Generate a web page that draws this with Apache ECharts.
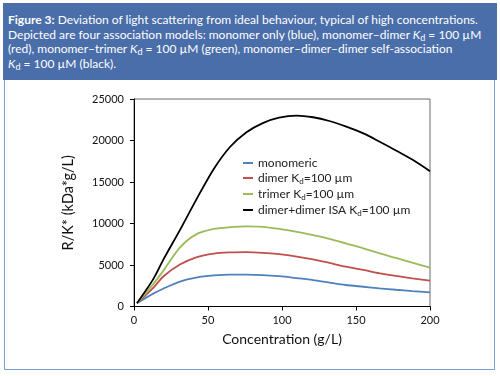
<!DOCTYPE html>
<html>
<head>
<meta charset="utf-8">
<script src="https://cdn.jsdelivr.net/npm/echarts@6/dist/echarts.min.js"></script>
<style>
  body { margin: 0; width: 500px; height: 376px; background: #fff; position: relative; overflow: hidden; }
  #hdr {
    position: absolute; left: 3px; top: 3px; width: 494px; height: 77px;
    box-sizing: border-box; padding: 10px 5px 0 5px;
    background: #4a6ea9; color: #fff;
    font-family: Lato, sans-serif; font-size: 12px; line-height: 14.5px; white-space: nowrap;
  }
  #hdr b { font-weight: bold; }
  #hdr sub { font-size: 9px; vertical-align: -2px; line-height: 0; }
  #panel {
    position: absolute; left: 4px; top: 80px; width: 491px; height: 290px;
    box-sizing: border-box; border: 1.5px solid #7d9dd3; border-top: none;
  }
  #main { position: absolute; left: 0; top: 0; width: 500px; height: 376px; }
</style>
</head>
<body>
<div id="hdr">
  <b>Figure 3:</b> Deviation of light scattering from ideal behaviour, typical of high concentrations.<br>
  Depicted are four association models: monomer only (blue), monomer–dimer <i>K</i><sub>d</sub> = 100 µM<br>
  (red), monomer–trimer <i>K</i><sub>d</sub> = 100 µM (green), monomer–dimer–dimer self-association<br>
  <i>K</i><sub>d</sub> = 100 µM (black).
</div>
<div id="panel"></div>
<div id="main"></div>
<script>
'use strict';

// concentration (g/L)
const conc = [2, 13, 20, 31, 42, 54, 65, 76, 87, 98, 110, 121, 132, 143, 155, 166, 177, 188, 200];

// R/K* (kDa*g/L)
const monomeric = [400, 1550, 2170, 3000, 3480, 3740, 3840, 3840, 3790, 3650, 3420, 3190, 2880, 2590, 2380, 2190, 2020, 1860, 1710];
const dimer = [400, 2250, 3650, 5050, 5930, 6380, 6520, 6550, 6470, 6300, 6020, 5690, 5250, 4800, 4400, 4000, 3700, 3400, 3110];
const trimer = [400, 2700, 4350, 7100, 8690, 9340, 9560, 9650, 9590, 9340, 9000, 8600, 8150, 7600, 7000, 6400, 5850, 5280, 4680];
const dimerIsa = [400, 3300, 5700, 9200, 12850, 16600, 19250, 21000, 22100, 22750, 23000, 22800, 22350, 21700, 20850, 19850, 18800, 17700, 16300];

const seriesNames = ['monomeric', 'dimer Kd=100 µm', 'trimer Kd=100 µm', 'dimer+dimer ISA Kd=100 µm'];
const legendLabels = [
  '{t|monomeric}',
  '{t|dimer K}{s|d}{t|=100 µm}',
  '{t|trimer K}{s|d}{t|=100 µm}',
  '{t|dimer+dimer ISA K}{s|d}{t|=100 µm}',
];
const colors = ['#4f81bd', '#c0504d', '#9bbb59', '#000000'];
const values = [monomeric, dimer, trimer, dimerIsa];

const FONT = 'Lato, sans-serif';

const myChart = echarts.init(document.getElementById('main'));

const option = {
  animation: false,
  grid: {
    left: 134,
    right: 70,
    top: 99,
    bottom: 69.5,
    show: true,
    borderColor: '#6b6b6b',
    borderWidth: 1,
  },
  legend: {
    orient: 'vertical',
    left: 238,
    top: 152,
    icon: 'rect',
    itemWidth: 10,
    itemHeight: 2,
    itemGap: 3,
    data: seriesNames,
    formatter: (name) => legendLabels[seriesNames.indexOf(name)],
    textStyle: {
      fontFamily: FONT,
      rich: {
        t: { fontFamily: FONT, fontSize: 12, color: '#222', lineHeight: 14 },
        s: { fontFamily: FONT, fontSize: 8, color: '#222', lineHeight: 8, verticalAlign: 'bottom' },
      },
    },
  },
  xAxis: {
    type: 'value',
    min: 0,
    max: 200,
    interval: 50,
    name: 'Concentration (g/L)',
    nameLocation: 'middle',
    nameGap: 26,
    nameTextStyle: { fontFamily: FONT, fontSize: 14, color: '#111' },
    axisLine: { lineStyle: { color: '#000', width: 1 } },
    axisTick: { show: true, inside: false, length: 4, lineStyle: { color: '#000' } },
    axisLabel: { fontFamily: FONT, fontSize: 11, color: '#111', margin: 8 },
    splitLine: { show: false },
  },
  yAxis: {
    type: 'value',
    min: 0,
    max: 25000,
    interval: 5000,
    name: 'R/K* (kDa*g/L)',
    nameLocation: 'middle',
    nameGap: 58,
    nameTextStyle: { fontFamily: FONT, fontSize: 14.5, color: '#111' },
    axisLine: { show: true, lineStyle: { color: '#000', width: 1 } },
    axisTick: { show: true, inside: false, length: 4, lineStyle: { color: '#000' } },
    axisLabel: { fontFamily: FONT, fontSize: 11, color: '#111', margin: 10, formatter: (v) => String(v) },
    splitLine: { show: false },
  },
  series: seriesNames.map((name, i) => ({
    name,
    type: 'line',
    smooth: 0.3,
    showSymbol: false,
    data: conc.map((c, j) => [c, values[i][j]]),
    lineStyle: { color: colors[i], width: 1.8 },
    itemStyle: { color: colors[i] },
  })),
};

myChart.setOption(option);
</script>
</body>
</html>
